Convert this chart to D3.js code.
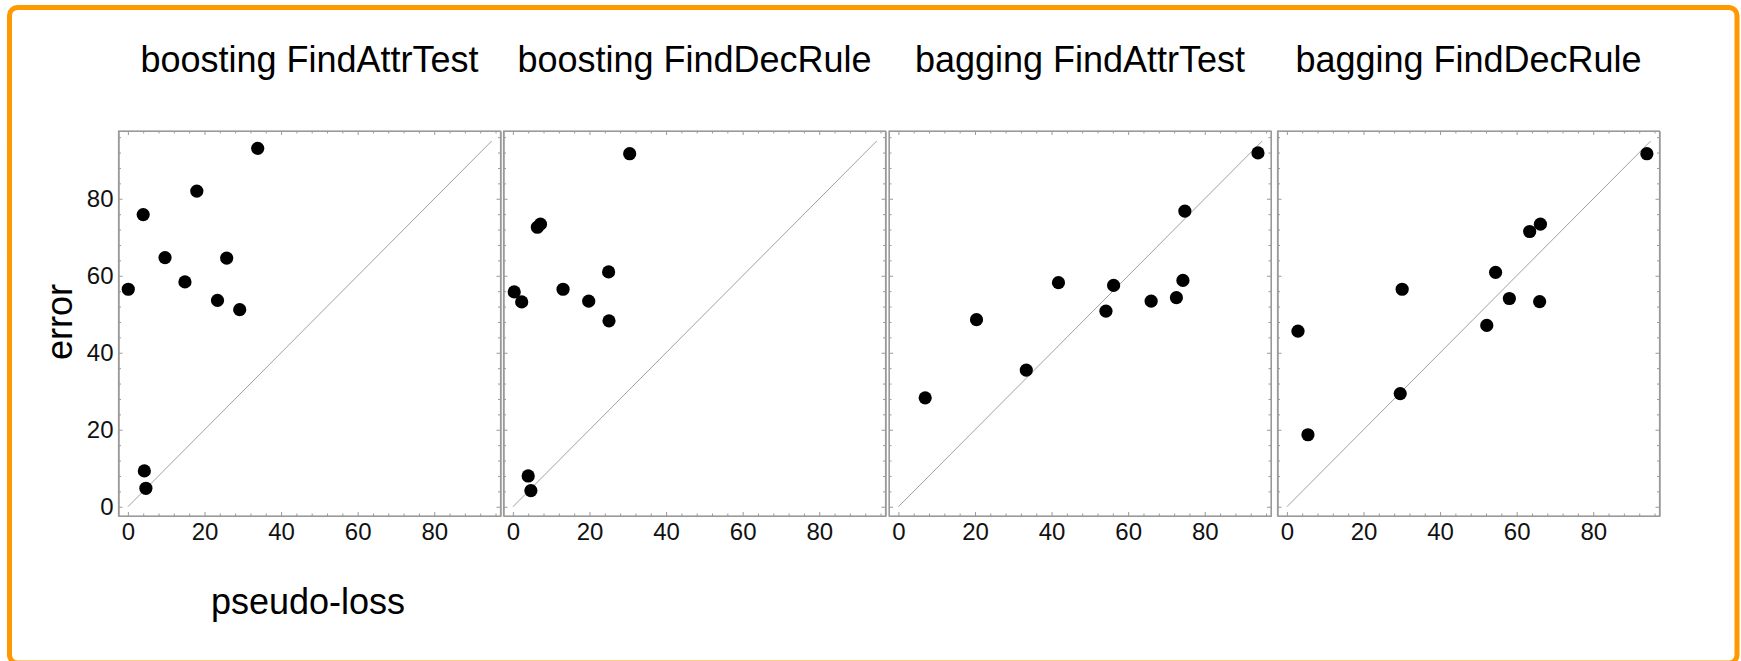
<!DOCTYPE html>
<html>
<head>
<meta charset="utf-8">
<script src="https://cdnjs.cloudflare.com/ajax/libs/d3/7.8.5/d3.min.js"></script>
<style>
  body { margin: 0; background: #fff; }
  svg { display: block; font-family: "Liberation Sans", Arial, sans-serif; }
  .frame-axis path { stroke: #999; }
  .frame-axis line { stroke: #999; }
  .frame-axis text { fill: #111; font-size: 24px; }
</style>
</head>
<body>
<div id="chart"></div>
<script>
(function() {
  // panel titles
  var panelTitles = ["boosting FindAttrTest", "boosting FindDecRule", "bagging FindAttrTest", "bagging FindDecRule"];

  // pseudo-loss (x) and error (y) for each panel
  var boostAttrX = [33.9, 18.0, 4.0, 9.7, 25.8, 14.9, 0.1, 23.4, 29.2, 4.3, 4.7];
  var boostAttrY = [93.1, 82.0, 75.9, 64.7, 64.6, 58.4, 56.5, 53.6, 51.2, 9.3, 4.8];

  var boostDecX = [30.5, 6.4, 7.2, 25.0, 0.35, 2.3, 13.1, 19.8, 25.1, 4.0, 4.7];
  var boostDecY = [91.7, 72.6, 73.4, 61.0, 55.8, 53.2, 56.5, 53.4, 48.3, 8.0, 4.2];

  var bagAttrX = [93.9, 74.8, 41.8, 56.2, 54.2, 66.0, 72.6, 74.3, 20.4, 33.4, 7.0];
  var bagAttrY = [91.9, 76.8, 58.2, 57.5, 50.8, 53.4, 54.3, 58.8, 48.6, 35.5, 28.3];

  var bagDecX = [94.0, 66.2, 63.4, 54.5, 30.1, 58.1, 66.0, 52.2, 2.9, 29.6, 5.5];
  var bagDecY = [91.7, 73.4, 71.5, 60.9, 56.5, 54.1, 53.3, 47.1, 45.6, 29.4, 18.7];

  // reference line y = x
  var diagonal = [0, 95];

  var majorTicks = [0, 20, 40, 60, 80];
  var minorTicks = [4, 8, 12, 16, 24, 28, 32, 36, 44, 48, 52, 56, 64, 68, 72, 76, 84, 88, 92, 96];

  var panelsX = [boostAttrX, boostDecX, bagAttrX, bagDecX];
  var panelsY = [boostAttrY, boostDecY, bagAttrY, bagDecY];

  var totalWidth = 1741, totalHeight = 661;
  var panelLefts = [118.5, 503.5, 889, 1277.5];
  var panelTop = 131, panelWidth = 382, panelHeight = 385;

  var svg = d3.select("#chart")
    .append("svg")
    .attr("width", totalWidth)
    .attr("height", totalHeight);

  // orange outer border
  svg.append("rect")
    .attr("x", 9.5)
    .attr("y", 7.5)
    .attr("width", 1727.5)
    .attr("height", 655.5)
    .attr("rx", 8)
    .attr("fill", "none")
    .attr("stroke", "#ff9900")
    .attr("stroke-width", 5);

  var xScale = d3.scaleLinear().domain([-2.45, 97.3]).range([0, panelWidth]);
  var yScale = d3.scaleLinear().domain([-2.4, 97.6]).range([panelHeight, 0]);

  panelTitles.forEach(function(title, i) {
    var g = svg.append("g")
      .attr("transform", "translate(" + panelLefts[i] + "," + panelTop + ")");

    svg.append("text")
      .attr("x", panelLefts[i] + panelWidth / 2)
      .attr("y", 72)
      .attr("text-anchor", "middle")
      .style("font-size", "36px")
      .text(title);

    // y = x line
    g.append("line")
      .attr("x1", xScale(diagonal[0]))
      .attr("y1", yScale(diagonal[0]))
      .attr("x2", xScale(diagonal[1]))
      .attr("y2", yScale(diagonal[1]))
      .attr("stroke", "#a0a0a0")
      .attr("stroke-width", 1);

    // major ticks on all four sides, pointing inward
    g.append("g")
      .attr("class", "frame-axis")
      .attr("transform", "translate(0," + panelHeight + ")")
      .call(d3.axisBottom(xScale).tickValues(majorTicks).tickSize(-4).tickPadding(7).tickSizeOuter(0));

    g.append("g")
      .attr("class", "frame-axis")
      .call(d3.axisLeft(yScale).tickValues(majorTicks).tickSize(-4).tickPadding(5).tickSizeOuter(0)
        .tickFormat(i === 0 ? d3.format("d") : ""));

    g.append("g")
      .attr("class", "frame-axis")
      .call(d3.axisTop(xScale).tickValues(majorTicks).tickSize(-4).tickSizeOuter(0).tickFormat(""));

    g.append("g")
      .attr("class", "frame-axis")
      .attr("transform", "translate(" + panelWidth + ",0)")
      .call(d3.axisRight(yScale).tickValues(majorTicks).tickSize(-4).tickSizeOuter(0).tickFormat(""));

    // minor ticks
    g.append("g")
      .attr("class", "frame-axis")
      .attr("transform", "translate(0," + panelHeight + ")")
      .call(d3.axisBottom(xScale).tickValues(minorTicks).tickSize(-2.5).tickSizeOuter(0).tickFormat(""));
    g.append("g")
      .attr("class", "frame-axis")
      .call(d3.axisLeft(yScale).tickValues(minorTicks).tickSize(-2.5).tickSizeOuter(0).tickFormat(""));
    g.append("g")
      .attr("class", "frame-axis")
      .call(d3.axisTop(xScale).tickValues(minorTicks).tickSize(-2.5).tickSizeOuter(0).tickFormat(""));
    g.append("g")
      .attr("class", "frame-axis")
      .attr("transform", "translate(" + panelWidth + ",0)")
      .call(d3.axisRight(yScale).tickValues(minorTicks).tickSize(-2.5).tickSizeOuter(0).tickFormat(""));

    // frame
    g.append("rect")
      .attr("width", panelWidth)
      .attr("height", panelHeight)
      .attr("fill", "none")
      .attr("stroke", "#999")
      .attr("stroke-width", 1.2);

    var points = panelsX[i].map(function(x, k) { return { x: x, y: panelsY[i][k] }; });

    g.selectAll("circle")
      .data(points)
      .enter().append("circle")
      .attr("r", 6.6)
      .attr("cx", function(d) { return xScale(d.x); })
      .attr("cy", function(d) { return yScale(d.y); })
      .attr("fill", "#000");
  });

  // axis titles
  svg.append("text")
    .attr("transform", "translate(72,322) rotate(-90)")
    .attr("text-anchor", "middle")
    .style("font-size", "36px")
    .text("error");

  svg.append("text")
    .attr("x", 308)
    .attr("y", 614)
    .attr("text-anchor", "middle")
    .style("font-size", "36px")
    .text("pseudo-loss");
})();
</script>
</body>
</html>
